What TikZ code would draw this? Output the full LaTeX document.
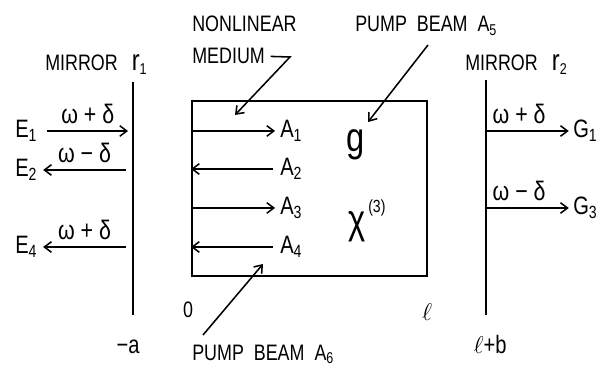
\documentclass[tikz,border=0pt]{standalone}
\usepackage{fontspec}
\setmainfont{Liberation Sans}[FakeStretch=0.8]
\usetikzlibrary{arrows.meta}

\tikzset{
  lbl/.style={font=\fontsize{15.9}{18}\selectfont, inner sep=0pt},
  sym/.style={font=\fontsize{17.9}{20}\selectfont, inner sep=0pt},
  freq/.style={font=\fontsize{19}{21}\selectfont, inner sep=0pt},
  big/.style={font=\fontsize{29}{31}\selectfont, inner sep=0pt},
  ray/.style={line width=1.1pt, -{Straight Barb[length=5pt,width=7.5pt]}},
  mirror/.style={line width=1.4pt},
}

\begin{document}
\begin{tikzpicture}[x=0.025cm, y=-0.025cm]
\useasboundingbox (0,0) rectangle (610,366);

% Mirrors
\coordinate (m1top) at (133,82);
\coordinate (m1bot) at (133,315);
\coordinate (m2top) at (486,80);
\coordinate (m2bot) at (486,315);
\draw[mirror] (m1top) -- (m1bot);
\draw[mirror] (m2top) -- (m2bot);
\node[lbl, anchor=base west] (mirL) at (45,71) {MIRROR\hspace{10pt}{\fontsize{21}{21}\selectfont r}\textsubscript{1}};
\node[lbl, anchor=base west] (mirR) at (465,71) {MIRROR\hspace{10pt}{\fontsize{21}{21}\selectfont r}\textsubscript{2}};

% Nonlinear medium
\node[draw, line width=1.4pt, inner sep=0pt, minimum width=5.875cm, minimum height=4.375cm] (cell) at (309.5,188.5) {};
\node[lbl, anchor=base west] (nonlin) at (192,32) {NONLINEAR};
\node[lbl, anchor=base west] (medlbl) at (192,64) {MEDIUM};
\coordinate (nlbend) at (290,57);
\coordinate (nltip) at (235,115);
\draw[ray] ([xshift=4pt]medlbl.east) -- (nlbend) -- (nltip);

% Pump beams
\node[lbl, anchor=base west] (pumpA) at (355,32) {PUMP~~BEAM~~A\textsubscript{5}};
\node[lbl, anchor=base west] (pumpB) at (192,360) {PUMP~~BEAM~~A\textsubscript{6}};
\coordinate (p5tail) at (428,45);
\coordinate (p5tip) at (368,122);
\coordinate (p6tail) at (203,335);
\coordinate (p6tip) at (263,264);
\draw[ray] (p5tail) -- (p5tip);
\draw[ray] (p6tail) -- (p6tip);

% Waves inside the medium
\node[sym, anchor=west] (A1) at (280,131) {A\textsubscript{1}};
\node[sym, anchor=west] (A2) at (280,169) {A\textsubscript{2}};
\node[sym, anchor=west] (A3) at (280,208) {A\textsubscript{3}};
\node[sym, anchor=west] (A4) at (280,247) {A\textsubscript{4}};
\draw[ray] (cell.west |- A1.west) -- ([xshift=-3.5pt]A1.west);
\draw[ray] ([xshift=-5pt]A2.west) -- (cell.west |- A2.west);
\draw[ray] (cell.west |- A3.west) -- ([xshift=-3.5pt]A3.west);
\draw[ray] ([xshift=-5pt]A4.west) -- (cell.west |- A4.west);

\node[big, anchor=base] (gain) at (356,152) {g};
\node[big, anchor=base] (chi) at (357,234) {χ};
\node[font=\fontsize{12.5}{14}\selectfont, inner sep=0pt, anchor=base west] (chiexp) at (368,212) {(3)};

% Left side fields
\node[sym, anchor=west] (E1) at (15,131) {E\textsubscript{1}};
\node[sym, anchor=west] (E2) at (15,170) {E\textsubscript{2}};
\node[sym, anchor=west] (E4) at (15,247) {E\textsubscript{4}};
\draw[ray] ([xshift=7pt]E1.east) -- ([xshift=-3.5pt]E1.east -| m1top)
  node[freq, midway, above=4.5pt] {ω + δ};
\draw[ray] ([xshift=-5pt]E2.east -| m1top) -- ([xshift=4pt]E2.east)
  node[freq, midway, above=4.5pt] {ω − δ};
\draw[ray] ([xshift=-5pt]E4.east -| m1top) -- ([xshift=4pt]E4.east)
  node[freq, midway, above=4.5pt] {ω + δ};

% Right side fields
\node[sym, anchor=west] (G1) at (573,131) {G\textsubscript{1}};
\node[sym, anchor=west] (G3) at (573,208) {G\textsubscript{3}};
\draw[ray] (G1.west -| m2top) -- ([xshift=-3pt]G1.west)
  node[freq, pos=0.4, above=4.5pt] {ω + δ};
\draw[ray] (G3.west -| m2top) -- ([xshift=-3pt]G3.west)
  node[freq, pos=0.4, above=4.5pt] {ω − δ};

% Positions
\node[lbl, anchor=base] (origin) at (188,317) {0};
\node[sym, anchor=base] (len) at (427,320) {$\ell$};
\node[sym, anchor=base] (posA) at (128,353) {−a};
\node[sym, anchor=base] (posB) at (490,353) {$\ell$+b};

\end{tikzpicture}
\end{document}
